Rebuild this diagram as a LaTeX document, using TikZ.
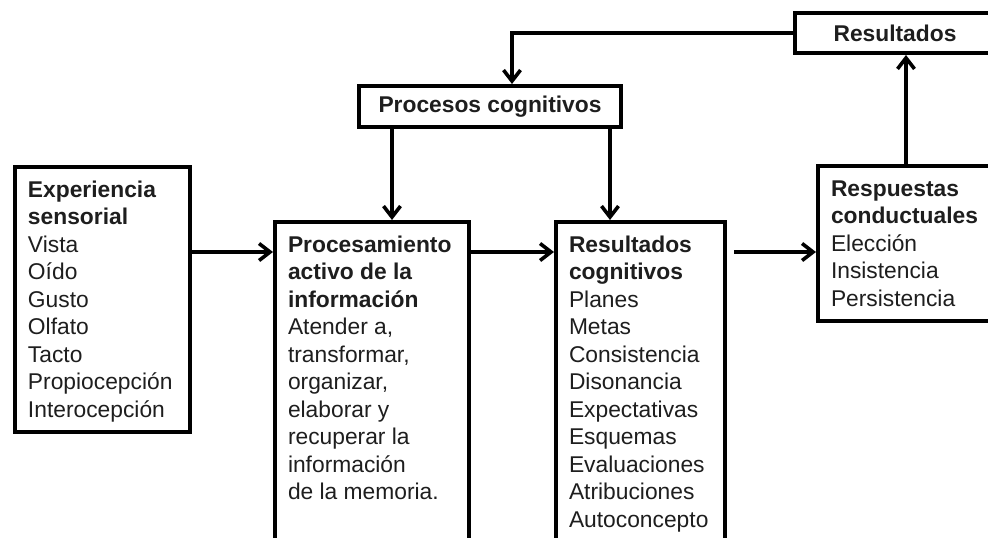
\documentclass[tikz,border=0pt]{standalone}
\usepackage{fontspec}
\setmainfont{Liberation Sans}
\usetikzlibrary{arrows.meta}
\definecolor{txt}{RGB}{30,30,30}
\newcommand{\boxcontent}[3]{\begin{minipage}[t][#2][t]{#1}\fontsize{22.8pt}{27.5pt}\selectfont\raggedright\leftskip=13pt\rule{0pt}{30pt}#3\end{minipage}}
\tikzset{
  bigbox/.style={draw=black, line width=4pt, fill=white, inner sep=0pt, anchor=north west, text=txt},
  smallbox/.style={draw=black, line width=4pt, fill=white, inner sep=0pt, text=txt, font=\fontsize{22.8pt}{27.5pt}\selectfont\bfseries},
  arr/.style={draw=black, line width=3.6pt, -{Straight Barb[length=11pt,width=17pt]}}
}
\begin{document}
\begin{tikzpicture}[x=1pt,y=-1pt]
\useasboundingbox (0,0) rectangle (988,538);
\clip (0,0) rectangle (988,538);
\fill[white] (0,0) rectangle (988,538);

\node[bigbox] (exp) at (13,165) {\boxcontent{175pt}{265pt}{\textbf{Experiencia\\ sensorial}\\ Vista\\ Oído\\ Gusto\\ Olfato\\ Tacto\\ Propiocepción\\ Interocepción}};
\node[bigbox] (proc) at (273,220) {\boxcontent{194pt}{330pt}{\textbf{Procesamiento\\ activo de la\\ información}\\ Atender a,\\ transformar,\\ organizar,\\ elaborar y\\ recuperar la\\ información\\ de la memoria.}};
\node[bigbox] (res) at (554,220) {\boxcontent{169pt}{330pt}{\textbf{Resultados\\ cognitivos}\\ Planes\\ Metas\\ Consistencia\\ Disonancia\\ Expectativas\\ Esquemas\\ Evaluaciones\\ Atribuciones\\ Autoconcepto}};
\node[bigbox] (resp) at (816,164) {\boxcontent{176pt}{155pt}{\textbf{Respuestas\\ conductuales}\\ Elección\\ Insistencia\\ Persistencia}};

\node[smallbox, minimum width=262pt, minimum height=41pt] (pc) at (490,106.5) {Procesos cognitivos};
\node[smallbox, minimum width=200pt, minimum height=40pt] (rs) at (895,33) {Resultados};

\coordinate (y1) at (0,252);
\coordinate (fbx) at (512,0);
\coordinate (d1) at (392,0);
\coordinate (d2) at (610,0);

\draw[arr] (exp.east |- y1) -- (proc.west |- y1);
\draw[arr] (proc.east |- y1) -- (res.west |- y1);
\draw[arr, shorten <=7pt] (res.east |- y1) -- (resp.west |- y1);
\draw[arr] (resp.north) -- (resp.north |- rs.south);
\draw[arr] (rs.west) -| (fbx |- pc.north);
\draw[arr] (d1 |- pc.south) -- (d1 |- proc.north);
\draw[arr] (d2 |- pc.south) -- (d2 |- res.north);
\end{tikzpicture}
\end{document}
